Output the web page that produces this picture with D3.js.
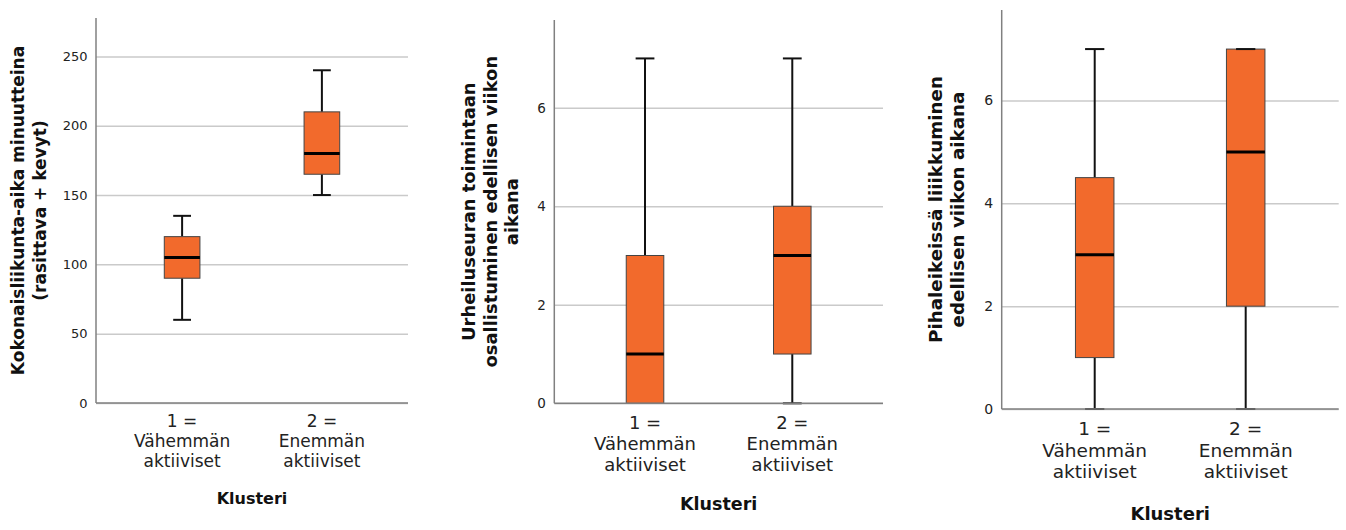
<!DOCTYPE html>
<html>
<head>
<meta charset="utf-8">
<script src="https://cdn.jsdelivr.net/npm/d3@7"></script>
<style>
    body { margin: 0; background: #fff; }
    svg { display: block; }
    .tick text { font-family: "DejaVu Sans", sans-serif; fill: #222; }
</style>
</head>
<body>
<div id="chart"></div>
<script>
// Data
const categories = ['1', '2'];
const categoryLabels = [['1 =', 'Vähemmän', 'aktiiviset'], ['2 =', 'Enemmän', 'aktiiviset']];
const xTitle = 'Klusteri';

const yTitles = [
    ['Kokonaisliikunta-aika minuutteina', '(rasittava + kevyt)'],
    ['Urheiluseuran toimintaan', 'osallistuminen edellisen viikon', 'aikana'],
    ['Pihaleikeissä liiikkuminen', 'edellisen viikon aikana']
];

// box stats: [min, q1, median, q3, max] per category
const totalTimeStats = [[60, 90, 105, 120, 135], [150, 165, 180, 210, 240]];
const clubStats = [[0, 0, 1, 3, 7], [0, 1, 3, 4, 7]];
const yardStats = [[0, 1, 3, 4.5, 7], [0, 2, 5, 7, 7]];
const allStats = [totalTimeStats, clubStats, yardStats];

const yMaxes = [277.7, 7.78, 7.76];
const yTicks = [[0, 50, 100, 150, 200, 250], [0, 2, 4, 6], [0, 2, 4, 6]];

// Layout of the three panels (each was a separate chart image)
const panels = [
    { x0: 96, x1: 408, yTop: 18, yBottom: 403, titleX: 18, titleGap: 22, titleSize: 17,
      catSize: 17, catY: 420.7, catGap: 20, xTitleY: 498, xTitleSize: 16, tickSize: 13 },
    { x0: 554.3, x1: 883, yTop: 20, yBottom: 403.3, titleX: 468.5, titleGap: 21.6, titleSize: 17.9,
      catSize: 18, catY: 422.3, catGap: 21, xTitleY: 503.3, xTitleSize: 17.5, tickSize: 13.5 },
    { x0: 1001.7, x1: 1338.7, yTop: 10, yBottom: 409, titleX: 935, titleGap: 22.3, titleSize: 18.3,
      catSize: 18.5, catY: 428.6, catGap: 21.6, xTitleY: 513.3, xTitleSize: 18, tickSize: 14 }
];

const width = 1346, height = 530;
const boxFill = '#f26a2c';
const font = '"DejaVu Sans", sans-serif';

const svg = d3.select('#chart')
    .append('svg')
    .attr('width', width)
    .attr('height', height);

panels.forEach(function(p, i) {
    const stats = allStats[i];
    const g = svg.append('g');

    const x = d3.scalePoint()
        .domain(categories)
        .range([p.x0, p.x1])
        .padding(0.616);

    const y = d3.scaleLinear()
        .domain([0, yMaxes[i]])
        .range([p.yBottom, p.yTop]);

    const boxW = x.step() * 0.255;

    // Gridlines + tick labels
    const yAxis = d3.axisLeft(y)
        .tickValues(yTicks[i])
        .tickFormat(d3.format('d'))
        .tickSize(-(p.x1 - p.x0))
        .tickPadding(8.5);

    const ag = g.append('g')
        .attr('transform', `translate(${p.x0},0)`)
        .call(yAxis);
    ag.select('.domain').remove();
    ag.selectAll('.tick line')
        .attr('stroke', '#cacaca')
        .attr('stroke-width', 1.5);
    ag.selectAll('.tick text')
        .style('font-size', p.tickSize + 'px');

    // Boxes
    const box = g.selectAll('.box')
        .data(stats)
        .enter()
        .append('g')
        .attr('class', 'box')
        .attr('transform', (d, j) => `translate(${x(categories[j])},0)`);

    // whiskers
    box.append('line')
        .attr('x1', 0).attr('x2', 0)
        .attr('y1', d => y(d[3])).attr('y2', d => y(d[4]))
        .attr('stroke', '#111').attr('stroke-width', 2);
    box.append('line')
        .attr('x1', 0).attr('x2', 0)
        .attr('y1', d => y(d[1])).attr('y2', d => y(d[0]))
        .attr('stroke', '#111').attr('stroke-width', 2);

    box.append('rect')
        .attr('x', -boxW / 2)
        .attr('width', boxW)
        .attr('y', d => y(d[3]))
        .attr('height', d => y(d[1]) - y(d[3]))
        .attr('fill', boxFill)
        .attr('stroke', '#444')
        .attr('stroke-width', 1);

    // median
    box.append('line')
        .attr('x1', -boxW / 2).attr('x2', boxW / 2)
        .attr('y1', d => y(d[2])).attr('y2', d => y(d[2]))
        .attr('stroke', '#000').attr('stroke-width', 3);

    // axis lines
    g.append('line')
        .attr('x1', p.x0).attr('x2', p.x1)
        .attr('y1', p.yBottom).attr('y2', p.yBottom)
        .attr('stroke', '#808080').attr('stroke-width', 1.5);
    g.append('line')
        .attr('x1', p.x0).attr('x2', p.x0)
        .attr('y1', p.yTop).attr('y2', p.yBottom)
        .attr('stroke', '#808080').attr('stroke-width', 1.5);

    // caps (drawn last so they show over the axis / box edge)
    [0, 4].forEach(function(k) {
        box.append('line')
            .attr('x1', -boxW / 4).attr('x2', boxW / 4)
            .attr('y1', d => y(d[k])).attr('y2', d => y(d[k]))
            .attr('stroke', '#111').attr('stroke-width', 2)
            .attr('display', d => (k === 0 && d[0] === d[1]) ? 'none' : null);
    });

    // Category labels
    const cat = g.selectAll('.cat')
        .data(categoryLabels)
        .enter()
        .append('text')
        .attr('class', 'cat')
        .attr('text-anchor', 'middle')
        .style('font-family', font)
        .style('font-size', p.catSize + 'px')
        .attr('fill', '#222');
    cat.selectAll('tspan')
        .data((d, j) => d.map(t => ({ t: t, j: j })))
        .enter()
        .append('tspan')
        .attr('x', d => x(categories[d.j]))
        .attr('y', (d, k) => p.catY + k * p.catGap)
        .attr('dy', '0.36em')
        .text(d => d.t);

    // X title
    g.append('text')
        .attr('x', (p.x0 + p.x1) / 2)
        .attr('y', p.xTitleY)
        .attr('dy', '0.36em')
        .attr('text-anchor', 'middle')
        .style('font-family', font)
        .style('font-weight', 'bold')
        .style('font-size', p.xTitleSize + 'px')
        .attr('fill', '#111')
        .text(xTitle);

    // Y title
    const cy = (p.yTop + p.yBottom) / 2;
    yTitles[i].forEach(function(line, k) {
        const tx = p.titleX + k * p.titleGap;
        g.append('text')
            .attr('transform', `translate(${tx},${cy}) rotate(-90)`)
            .attr('dy', '0.36em')
            .attr('text-anchor', 'middle')
            .style('font-family', font)
            .style('font-weight', 'bold')
            .style('font-size', p.titleSize + 'px')
            .attr('fill', '#111')
            .text(line);
    });
});
</script>
</body>
</html>
